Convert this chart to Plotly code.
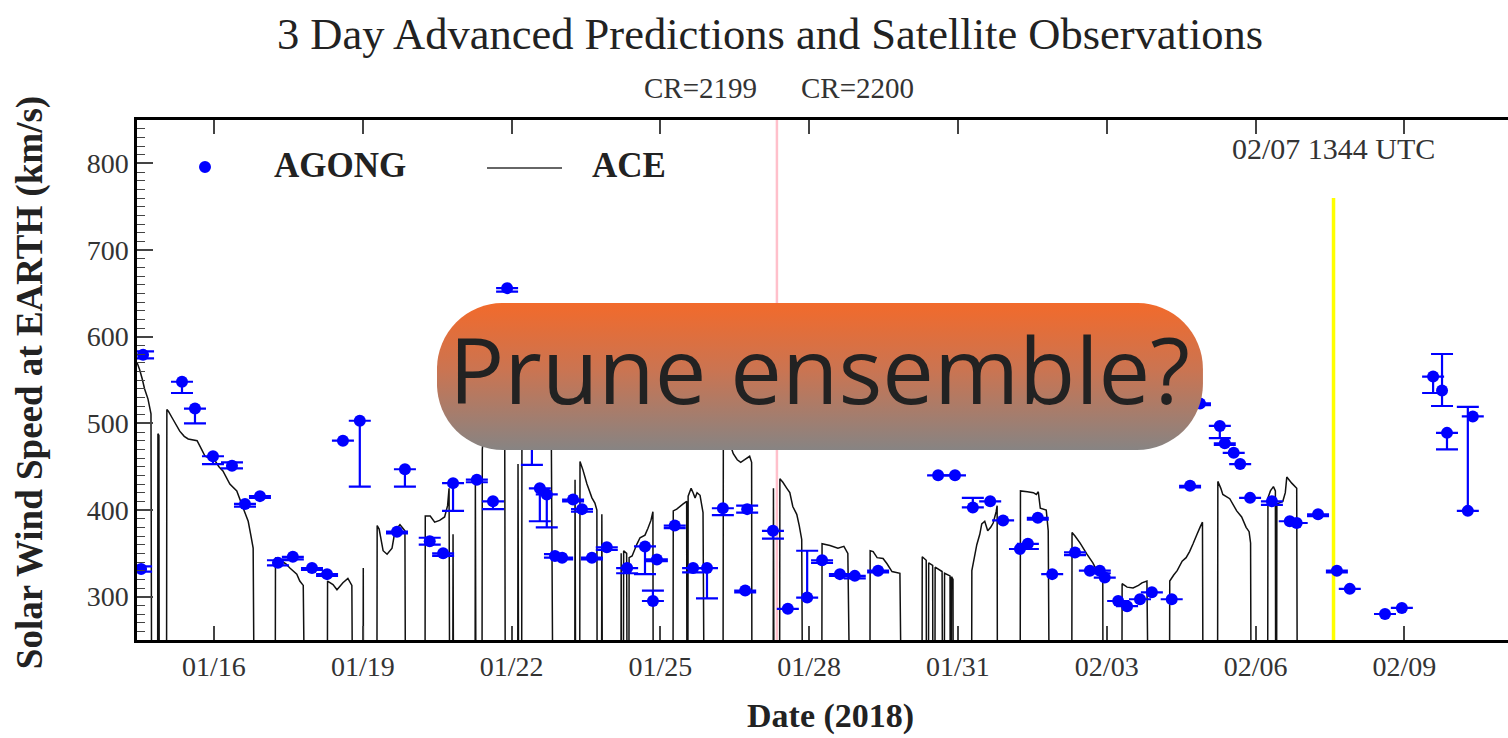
import base64
import pandas as pd
import plotly.graph_objects as go

# ---------------- data ----------------
BASE = pd.Timestamp("2018-01-16")

# ACE observed solar wind speed (days since 2018-01-16, km/s); 0 = data dropout
ace_day = [
    -1.55, -1.50, -1.45, -1.40, -1.33, -1.27, -1.25,
    -1.14, -1.13, -1.11, -1.10,
    -0.96, -0.95, -0.92, -0.83, -0.69, -0.60, -0.52, -0.34, -0.25, -0.18, 0.02, 0.10, 0.18,
    0.32, 0.46, 0.59, 0.69, 0.74, 0.79, 0.83,
    1.23, 1.24, 1.33, 1.45, 1.53, 1.67, 1.73, 1.80, 1.86,
    2.28, 2.29, 2.40, 2.48, 2.60, 2.70, 2.78, 2.81,
    3.00, 3.01, 3.02,
    3.28, 3.29, 3.33, 3.41, 3.49, 3.59, 3.65, 3.75, 3.85, 3.87,
    4.25, 4.26, 4.36, 4.45, 4.55, 4.65, 4.71, 4.74, 4.76, 4.81, 4.82, 4.84,
    5.26, 5.27, 5.29, 5.40, 5.41, 5.50, 5.60, 5.75, 5.86, 5.88,
    6.12, 6.13, 6.15, 6.20, 6.21, 6.35, 6.50, 6.65, 6.80, 6.85,
    7.27, 7.28, 7.30, 7.37, 7.38, 7.44, 7.52, 7.62, 7.68, 7.72, 7.73, 7.81, 7.82, 7.84,
    8.20, 8.21, 8.22, 8.25, 8.26, 8.32, 8.34, 8.36, 8.37, 8.43, 8.53, 8.59, 8.69, 8.75, 8.81, 8.85, 8.86,
    9.25, 9.26, 9.33, 9.46, 9.53, 9.54, 9.55, 9.56, 9.62, 9.66, 9.70, 9.74, 9.80, 9.86, 9.90,
    10.26, 10.27, 10.35, 10.44, 10.47, 10.55, 10.62, 10.70, 10.80, 10.84, 10.85,
    11.27, 11.28, 11.30, 11.40, 11.41, 11.47, 11.55, 11.61, 11.67, 11.75, 11.80, 11.85, 11.88,
    12.25, 12.26, 12.42, 12.58, 12.70, 12.78, 12.86,
    13.22, 13.23, 13.29, 13.37, 13.49, 13.57, 13.67, 13.83, 13.89,
    14.27, 14.28, 14.36, 14.37, 14.40, 14.41, 14.49, 14.50, 14.53, 14.54, 14.68, 14.70,
    14.72, 14.73, 14.84, 14.85, 14.86, 14.87, 14.90, 14.91,
    15.27, 15.28, 15.33, 15.38, 15.44, 15.48, 15.54, 15.60, 15.66, 15.71, 15.77, 15.79, 15.80,
    16.25, 16.26, 16.40, 16.52, 16.58, 16.62, 16.66, 16.78, 16.82, 16.86,
    17.29, 17.30, 17.36, 17.46, 17.60, 17.72, 17.80, 17.92, 17.93,
    18.30, 18.31, 18.41, 18.53, 18.64, 18.71, 18.81, 18.87,
    19.26, 19.27, 19.35, 19.42, 19.52, 19.60, 19.67, 19.74, 19.82, 19.88, 19.93, 19.95,
    20.23, 20.24, 20.30, 20.34, 20.48, 20.62, 20.72, 20.81, 20.87, 20.90, 20.92,
    21.24, 21.25, 21.30, 21.36, 21.40, 21.41, 21.42, 21.43, 21.55, 21.60, 21.63, 21.73, 21.83, 21.85,
]
ace_kms = [
    570, 562, 552, 540, 528, 511, 0,
    0, 488, 486, 0,
    0, 516, 514, 505, 491, 485, 482, 480, 470, 462, 457, 450, 445,
    430, 422, 402, 387, 372, 356, 0,
    0, 345, 342, 338, 333, 326, 318, 313, 0,
    0, 318, 314, 308, 316, 321, 313, 0,
    0, 333, 0,
    0, 382, 378, 353, 349, 356, 376, 383, 376, 0,
    0, 393, 393, 386, 388, 392, 405, 425, 0, 0, 372, 0,
    0, 437, 0, 0, 470, 520, 555, 560, 548, 0,
    0, 453, 0, 0, 530, 545, 530, 520, 500, 0,
    0, 435, 0, 0, 456, 446, 430, 414, 408, 400, 0, 0, 395, 0,
    0, 350, 0, 0, 353, 350, 0, 0, 345, 347, 361, 368, 371, 379, 388, 398, 0,
    0, 399, 401, 407, 410, 0, 0, 416, 425, 420, 414, 420, 417, 397, 0,
    0, 500, 490, 470, 465, 458, 455, 458, 462, 455, 0,
    0, 425, 0, 0, 436, 432, 425, 420, 404, 395, 382, 366, 0,
    0, 361, 359, 356, 358, 350, 0,
    0, 353, 352, 345, 344, 338, 329, 327, 0,
    0, 346, 342, 0, 0, 339, 336, 0, 0, 334, 329, 0,
    0, 327, 324, 0, 0, 323, 320, 0,
    0, 330, 345, 360, 372, 384, 387, 376, 380, 385, 398, 405, 0,
    0, 422, 421, 420, 418, 421, 402, 400, 376, 0,
    0, 374, 370, 362, 349, 339, 330, 318, 0,
    0, 315, 311, 310, 313, 316, 318, 0,
    0, 318, 325, 330, 341, 345, 352, 361, 372, 380, 386, 0,
    0, 433, 425, 418, 413, 399, 392, 380, 375, 362, 0,
    0, 414, 422, 427, 422, 0, 0, 407, 410, 420, 438, 431, 425, 0,
]

# AGONG predictions (days since 2018-01-16, km/s) with asymmetric error bars
agong_day = [
    -1.43, -1.47, -0.645, -0.383, -0.02, 0.363, 0.625, 0.927, 1.29, 1.59,
    1.976, 2.28, 2.60, 2.94, 3.69, 3.85, 4.35, 4.62, 4.82, 5.30,
    5.625, 5.91, 6.41, 6.57, 6.71, 6.875, 7.02, 7.24, 7.42, 7.62,
    7.92, 8.33, 8.69, 8.93, 8.85, 9.29, 9.66, 9.94, 10.26, 10.75,
    10.71, 11.27, 11.57, 11.96, 12.26, 12.62, 12.92, 13.39, 14.60, 14.94,
    15.30, 15.65, 15.91, 16.25, 16.41, 16.61, 16.90, 17.36, 17.66, 17.86,
    17.96, 18.23, 18.41, 18.67, 18.91, 19.31, 19.68, 19.88, 20.28, 20.38,
    20.56, 20.69, 20.89, 21.33, 21.69, 21.83, 22.26, 22.64, 22.90, 23.61,
    23.95, 24.58, 24.76, 24.86, 25.28, 25.38,
]
agong_kms = [
    579, 332, 548, 517, 462, 451, 407, 416, 339, 346,
    333, 326, 480, 503, 375, 447, 364, 350, 431, 435,
    410, 656, 490, 425, 418, 347, 345, 412, 401, 345,
    357, 333, 358, 343, 295, 382, 333, 333, 402, 401,
    307, 376, 286, 299, 342, 326, 324, 330, 440, 440,
    403, 410, 388, 355, 361, 391, 326, 351, 330, 330,
    322, 295, 289, 297, 305, 297, 428, 523, 497, 477,
    466, 453, 414, 410, 387, 385, 395, 330, 309, 280,
    287, 554, 538, 489, 399, 508,
]
agong_err_plus = [
    4, 3, 0, 0, 0, 4, 0, 0, 3, 0,
    0, 0, 0, 0, 0, 0, 4, 0, 0, 0,
    0, 0, 0, 0, 0, 2, 0, 0, 0, 0,
    0, 0, 0, 0, 12, 0, 0, 0, 0, 4,
    0, 0, 0, 54, 0, 0, 0, 0, 0, 0,
    11, 0, 0, 0, 0, 0, 0, 0, 0, 0,
    0, 0, 0, 0, 0, 0, 0, 0, 0, 0,
    0, 0, 0, 0, 0, 0, 0, 0, 0, 0,
    0, 0, 42, 0, 120, 0,
]
agong_err_minus = [
    4, 3, 13, 17, 9, 3, 3, 2, 3, 3,
    2, 2, 0, 76, 2, 20, 4, 3, 32, 3,
    9, 4, 38, 38, 38, 2, 2, 2, 3, 2,
    3, 6, 32, 2, 0, 3, 5, 35, 8, 4,
    2, 9, 0, 0, 3, 2, 3, 2, 0, 0,
    0, 0, 0, 0, 6, 2, 0, 3, 0, 3,
    0, 0, 0, 0, 0, 0, 2, 2, 14, 2,
    0, 0, 0, 4, 0, 0, 2, 2, 0, 0,
    0, 19, 18, 19, 0, 0,
]

# reference times
cr_boundary_day = 11.35          # start of Carrington rotation 2200
forecast_time = pd.Timestamp("2018-02-07 13:44")
forecast_line_top = 760
x_range_days = [-1.552, 26.09]
y_range = [250, 850]

ace_time = BASE + pd.to_timedelta(ace_day, unit="D")
agong_time = BASE + pd.to_timedelta(agong_day, unit="D")
cr_boundary = BASE + pd.to_timedelta(cr_boundary_day, unit="D")
x_range = [BASE + pd.to_timedelta(d, unit="D") for d in x_range_days]

SERIF = "Liberation Serif, Times New Roman, serif"

fig = go.Figure()

fig.add_trace(go.Scatter(
    x=ace_time, y=ace_kms, mode="lines", name="ACE",
    line=dict(color="#111111", width=1.5, simplify=False),
    showlegend=False,
))

fig.add_trace(go.Scatter(
    x=agong_time, y=agong_kms, mode="markers", name="AGONG",
    marker=dict(color="#0000ff", size=12),
    error_y=dict(type="data", symmetric=False, array=agong_err_plus,
                 arrayminus=agong_err_minus, color="#0000ff", thickness=2.2, width=11),
    showlegend=False,
))

# CR boundary (pink) and forecast time (yellow)
fig.add_shape(type="line", xref="x", yref="paper", x0=cr_boundary, x1=cr_boundary,
              y0=0, y1=1, line=dict(color="#ffc0cb", width=2.5), layer="below")
fig.add_shape(type="line", xref="x", yref="y", x0=forecast_time, x1=forecast_time,
              y0=y_range[0], y1=forecast_line_top, line=dict(color="#ffff00", width=3.5),
              layer="below")

# custom legend
fig.add_shape(type="circle", xref="paper", yref="paper", xsizemode="pixel", ysizemode="pixel",
              xanchor=0.0496, yanchor=0.9096, x0=-6, x1=6, y0=-6, y1=6,
              fillcolor="#0000ff", line=dict(color="#0000ff", width=0))
fig.add_shape(type="line", xref="paper", yref="paper", x0=0.2553, x1=0.3100,
              y0=0.9077, y1=0.9077, line=dict(color="#333333", width=1.6))
fig.add_annotation(text="<b>AGONG</b>", xref="paper", yref="paper", x=0.0985, y=0.913,
                   xanchor="left", yanchor="middle", showarrow=False,
                   font=dict(family=SERIF, size=35, color="#222222"))
fig.add_annotation(text="<b>ACE</b>", xref="paper", yref="paper", x=0.3304, y=0.913,
                   xanchor="left", yanchor="middle", showarrow=False,
                   font=dict(family=SERIF, size=35, color="#222222"))

# CR labels
fig.add_annotation(text="CR=2199", xref="x", yref="paper", x=cr_boundary, y=1.0615,
                   xanchor="right", yanchor="middle", xshift=-18, showarrow=False,
                   font=dict(family=SERIF, size=29, color="#333333"))
fig.add_annotation(text="CR=2200", xref="x", yref="paper", x=cr_boundary, y=1.0615,
                   xanchor="left", yanchor="middle", xshift=22, showarrow=False,
                   font=dict(family=SERIF, size=29, color="#333333"))

# forecast time label
fig.add_annotation(text="02/07 1344 UTC", xref="x", yref="y", x=forecast_time, y=817,
                   xanchor="center", yanchor="middle", showarrow=False,
                   font=dict(family=SERIF, size=30, color="#333333"))

# axis titles
fig.add_annotation(text="<b>Solar Wind Speed at EARTH (km/s)</b>", xref="paper", yref="paper",
                   x=-0.078, y=0.494, textangle=-90, xanchor="center", yanchor="middle",
                   showarrow=False, font=dict(family=SERIF, size=37, color="#222222"))
fig.add_annotation(text="<b>Date (2018)</b>", xref="paper", yref="paper",
                   x=0.5055, y=-0.146, xanchor="center", yanchor="middle",
                   showarrow=False, font=dict(family=SERIF, size=34, color="#222222"))

# overlay badge
svg = ("<svg xmlns='http://www.w3.org/2000/svg' width='766' height='147' viewBox='0 0 766 147' "
       "preserveAspectRatio='none'>"
       "<defs><linearGradient id='g' x1='0' y1='0' x2='0' y2='1'>"
       "<stop offset='0' stop-color='#F26A2B'/><stop offset='0.45' stop-color='#CB7451'/>"
       "<stop offset='1' stop-color='#878483'/></linearGradient></defs>"
       "<rect x='0' y='0' width='766' height='147' rx='66' ry='66' fill='url(#g)'/></svg>")
svg_uri = "data:image/svg+xml;base64," + base64.b64encode(svg.encode()).decode()
fig.add_layout_image(source=svg_uri, xref="paper", yref="paper", x=0.2188, y=0.6481,
                     sizex=0.5587, sizey=0.2827, xanchor="left", yanchor="top",
                     sizing="stretch", layer="above")
fig.add_annotation(text="Prune ensemble?", xref="paper", yref="paper", x=0.4978, y=0.523,
                   xanchor="center", yanchor="middle", showarrow=False,
                   font=dict(family="Open Sans, sans-serif", size=92, color="#222222"))

fig.update_layout(
    width=1508, height=738,
    margin=dict(l=137, r=0, t=120, b=98),
    paper_bgcolor="white", plot_bgcolor="white",
    showlegend=False,
    title=dict(text="3 Day Advanced Predictions and Satellite Observations",
               x=770 / 1508, xref="container", xanchor="center",
               y=1 - 33 / 738, yref="container", yanchor="middle",
               font=dict(family=SERIF, size=44.5, color="#222222")),
    xaxis=dict(type="date", range=x_range, tick0="2018-01-16", dtick=3 * 86400000,
               tickformat="%m/%d", ticks="inside", ticklen=14, tickwidth=1.5,
               tickcolor="#444444", showline=True, linewidth=2.5, linecolor="black",
               mirror="ticks", showgrid=False, zeroline=False,
               tickfont=dict(family=SERIF, size=28, color="#333333")),
    yaxis=dict(range=y_range, tick0=0, dtick=100, ticks="inside", ticklen=16,
               tickwidth=1.5, tickcolor="#444444", showline=True, linewidth=2.5,
               linecolor="black", mirror=False, showgrid=False, zeroline=False,
               minor=dict(dtick=10, ticks="inside", ticklen=8, tickwidth=1.2,
                          tickcolor="#444444", showgrid=False),
               tickfont=dict(family=SERIF, size=28, color="#333333")),
)

fig.write_html("out.html")
